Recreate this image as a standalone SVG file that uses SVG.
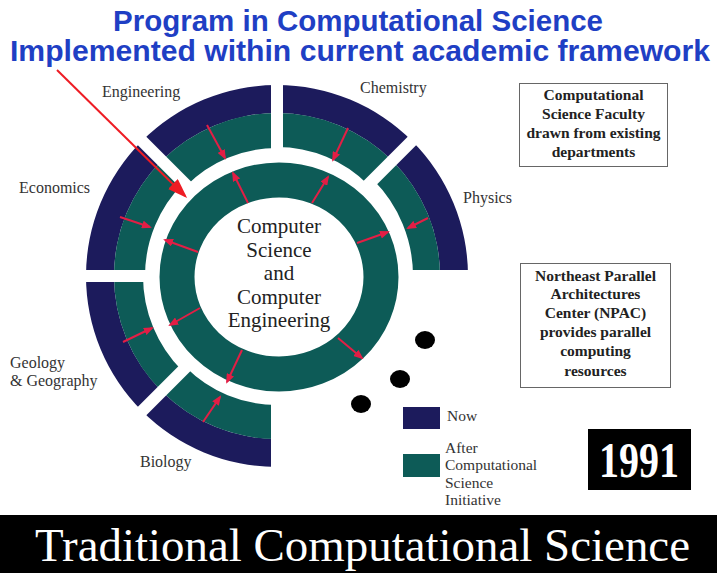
<svg xmlns="http://www.w3.org/2000/svg" width="717" height="573" viewBox="0 0 717 573">
<defs>
<style>
.navy{fill:#1c1b5c}
.teal{fill:#0d5b57}
.gap{stroke:#fff;stroke-width:12;fill:none}
.lbl{font-family:"Liberation Serif","Times New Roman",serif;font-size:16px;fill:#333}
.ctr{font-family:"Liberation Serif","Times New Roman",serif;font-size:21px;fill:#222;text-anchor:middle}
.box{fill:#fff;stroke:#666;stroke-width:1}
.btxt{font-family:"Liberation Serif","Times New Roman",serif;font-size:15.5px;font-weight:bold;fill:#222;text-anchor:middle}
.leg{font-family:"Liberation Serif","Times New Roman",serif;font-size:15.5px;fill:#333}
.title{font-family:"Liberation Sans",Arial,sans-serif;font-size:30px;font-weight:bold;fill:#1f3fc4;text-anchor:middle}
.arr{stroke:#e31e45;stroke-width:2;fill:none;marker-end:url(#ah)}
</style>
<marker id="ah" viewBox="0 0 10 8" markerWidth="10" markerHeight="8" refX="8" refY="4" orient="auto" markerUnits="userSpaceOnUse">
<path d="M0,0 L10,4 L0,8 Z" fill="#e31e45"/>
</marker>
<marker id="bigah" viewBox="0 0 20 14" markerWidth="20" markerHeight="14" refX="17" refY="7" orient="auto" markerUnits="userSpaceOnUse">
<path d="M0,0 L20,7 L0,14 Z" fill="#ee1c24"/>
</marker>
</defs>
<rect width="717" height="573" fill="#fff"/>

<g id="title">
<text class="title" x="358" y="31" textLength="490" lengthAdjust="spacingAndGlyphs">Program in Computational Science</text>
<text class="title" x="360" y="61" textLength="700" lengthAdjust="spacingAndGlyphs">Implemented within current academic framework</text>
</g>

<g id="outer-ring">
<path class="navy" d="M468,276 A191,191 0 1 0 277,467 L277,439 A163,163 0 1 1 440,276 Z"/>
<g id="seg-physics"><path class="teal" d="M440,276 A163,163 0 0 0 392.3,160.7 L373.2,179.8 A136,136 0 0 1 413,276 Z"/></g>
<g id="seg-chemistry"><path class="teal" d="M392.3,160.7 A163,163 0 0 0 277,113 L277,147 A129,129 0 0 1 368.2,184.8 Z"/></g>
<g id="seg-engineering"><path class="teal" d="M277,113 A163,163 0 0 0 161.7,160.7 L186.5,185.5 A128,128 0 0 1 277,148 Z"/></g>
<g id="seg-economics"><path class="teal" d="M161.7,160.7 A163,163 0 0 0 114,276 L145,276 A132,132 0 0 1 183.7,182.7 Z"/></g>
<g id="seg-geology"><path class="teal" d="M114,276 A163,163 0 0 0 161.7,391.3 L182.2,370.8 A134,134 0 0 1 143,276 Z"/></g>
<g id="seg-biology"><path class="teal" d="M161.7,391.3 A163,163 0 0 0 277,439 L277,405 A129,129 0 0 1 185.8,367.2 Z"/></g>
<g id="gaps">
<line class="gap" x1="395" y1="276" x2="480" y2="276"/>
<line class="gap" x1="361.9" y1="191.1" x2="418.4" y2="134.6"/>
<line class="gap" x1="277" y1="156" x2="277" y2="76"/>
<line class="gap" x1="192.1" y1="191.1" x2="135.6" y2="134.6"/>
<line class="gap" x1="157" y1="276" x2="77" y2="276"/>
<line class="gap" x1="192.1" y1="360.9" x2="135.6" y2="417.4"/>
<line class="gap" x1="277" y1="396" x2="277" y2="478"/>
</g>
</g>

<g id="labels">
<text class="lbl" x="102" y="97">Engineering</text>
<text class="lbl" x="19" y="193">Economics</text>
<text class="lbl" x="360" y="93">Chemistry</text>
<text class="lbl" x="463" y="203">Physics</text>
<text class="lbl" x="10" y="368">Geology</text>
<text class="lbl" x="10" y="386">&amp; Geography</text>
<text class="lbl" x="140" y="467">Biology</text>
</g>

<g id="cs-ce">
<ellipse cx="279" cy="277" rx="102" ry="97" fill="none" stroke="#0d5b57" stroke-width="35"/>
<text class="ctr" x="279" y="233">Computer</text>
<text class="ctr" x="279" y="257">Science</text>
<text class="ctr" x="279" y="280">and</text>
<text class="ctr" x="279" y="304">Computer</text>
<text class="ctr" x="279" y="327">Engineering</text>
</g>

<g id="connectors">
<line class="arr" x1="207" y1="125" x2="225" y2="158"/>
<line class="arr" x1="248" y1="203" x2="233" y2="173"/>
<line class="arr" x1="120" y1="217" x2="150" y2="227"/>
<line class="arr" x1="198" y1="252" x2="165" y2="240"/>
<line class="arr" x1="348" y1="128" x2="333" y2="160"/>
<line class="arr" x1="312" y1="203" x2="328" y2="177"/>
<line class="arr" x1="428" y1="218" x2="408" y2="228"/>
<line class="arr" x1="357" y1="243" x2="388" y2="232"/>
<line class="arr" x1="123" y1="342" x2="152" y2="328"/>
<line class="arr" x1="200" y1="308" x2="170" y2="325"/>
<line class="arr" x1="242" y1="350" x2="227" y2="382"/>
<line class="arr" x1="203" y1="422" x2="220" y2="397"/>
<line class="arr" x1="338" y1="338" x2="362" y2="358"/>
<line x1="57" y1="70" x2="185" y2="196" stroke="#ee1c24" stroke-width="2" marker-end="url(#bigah)"/>
</g>

<g id="dots" fill="#000">
<ellipse cx="425" cy="340" rx="10" ry="9"/>
<ellipse cx="400" cy="379" rx="10" ry="9"/>
<ellipse cx="361" cy="404" rx="10" ry="9"/>
</g>

<g id="faculty-box">
<rect class="box" x="519.5" y="83.5" width="148" height="83"/>
<text class="btxt" x="593.5" y="100">Computational</text>
<text class="btxt" x="593.5" y="119">Science Faculty</text>
<text class="btxt" x="593.5" y="138">drawn from existing</text>
<text class="btxt" x="593.5" y="157">departments</text>
</g>

<g id="npac-box">
<rect class="box" x="520.5" y="263.5" width="150" height="124"/>
<text class="btxt" x="595.5" y="281">Northeast Parallel</text>
<text class="btxt" x="595.5" y="299">Architectures</text>
<text class="btxt" x="595.5" y="318">Center (NPAC)</text>
<text class="btxt" x="595.5" y="337">provides parallel</text>
<text class="btxt" x="595.5" y="356">computing</text>
<text class="btxt" x="595.5" y="376">resources</text>
</g>

<g id="legend">
<rect class="navy" x="403" y="407" width="37" height="22"/>
<text class="leg" x="447" y="421">Now</text>
<rect class="teal" x="403" y="454" width="37" height="23"/>
<text class="leg" x="445" y="453">After</text>
<text class="leg" x="445" y="470">Computational</text>
<text class="leg" x="445" y="488">Science</text>
<text class="leg" x="445" y="505">Initiative</text>
</g>

<g id="year">
<rect x="588" y="429" width="103" height="61" fill="#000"/>
<text x="639" y="477" text-anchor="middle" font-family="'Liberation Serif','Times New Roman',serif" font-size="50" font-weight="bold" fill="#fff" textLength="80" lengthAdjust="spacingAndGlyphs">1991</text>
</g>

<g id="footer">
<rect x="0" y="515" width="717" height="58" fill="#000"/>
<text x="35" y="561" font-family="'Liberation Serif','Times New Roman',serif" font-size="47" fill="#fff" textLength="655" lengthAdjust="spacingAndGlyphs">Traditional Computational Science</text>
</g>
</svg>
